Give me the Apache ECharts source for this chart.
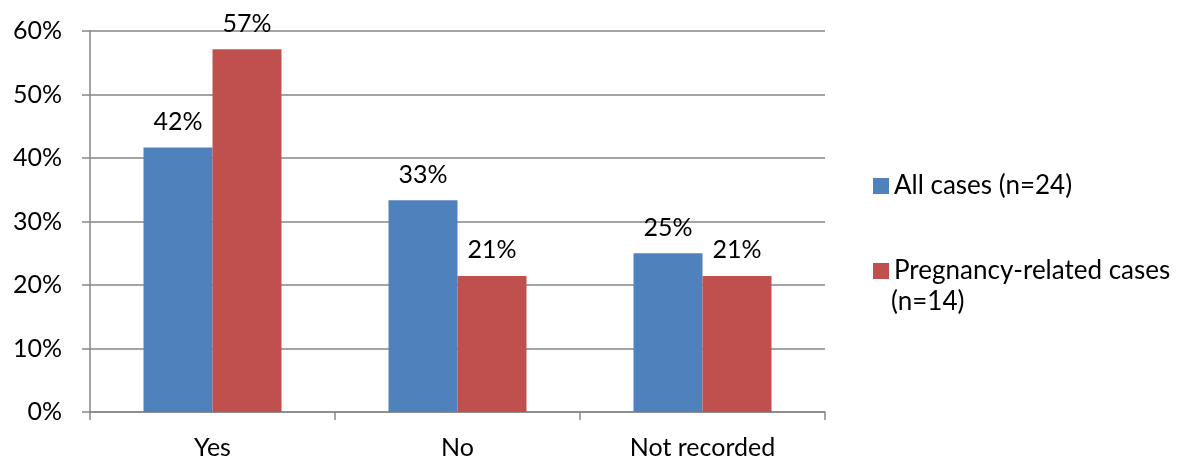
<!DOCTYPE html>
<html><head><meta charset="utf-8">
<script src="https://cdn.jsdelivr.net/npm/echarts@6/dist/echarts.min.js"></script>
<style>html,body{margin:0;padding:0;background:#fff}#c{width:1188px;height:462px}</style>
</head><body><div id="c"></div>
<script>
const categories = ['Yes', 'No', 'Not recorded'];
const allCases = [41.67, 33.33, 25.0];
const pregnancyCases = [57.14, 21.43, 21.43];
const seriesNames = ['All cases (n=24)', 'Pregnancy-related cases (n=14)'];
const yTicks = [0, 10, 20, 30, 40, 50, 60];

const FONT = 'Lato';
const FS = 25;
const chart = echarts.init(document.getElementById('c'));
const lbl = {show: true, position: 'top', distance: 13, color: '#000', fontFamily: FONT, fontSize: FS,
  formatter: p => Math.round(p.value) + '%'};
const legendText = {fontFamily: FONT, fontSize: 26, color: '#000', lineHeight: 30};
chart.setOption({
  animation: false,
  grid: {left: 90, right: 363, top: 31, bottom: 50, containLabel: false},
  legend: [
    {data: [seriesNames[0]], left: 868, top: 166, itemWidth: 16, itemHeight: 16, itemGap: 0,
     textStyle: legendText, icon: 'rect', selectedMode: false},
    {data: [seriesNames[1]], left: 868, top: 251, itemWidth: 16, itemHeight: 16, itemGap: 0,
     textStyle: legendText, icon: 'rect', selectedMode: false,
     formatter: n => n.split(' (')[0]}
  ],
  graphic: [{type: 'text', left: 891, top: 289,
    style: {text: '(' + seriesNames[1].split(' (')[1], font: '26px Lato', fill: '#000'}}],
  xAxis: {type: 'category', data: categories,
    axisLine: {lineStyle: {color: '#868686', width: 1.5}},
    axisTick: {show: true, length: 8, lineStyle: {color: '#868686', width: 1.5}},
    axisLabel: {color: '#000', fontFamily: FONT, fontSize: FS, margin: 23}},
  yAxis: {type: 'value', min: yTicks[0], max: yTicks[yTicks.length - 1], interval: 10,
    axisLine: {show: true, lineStyle: {color: '#868686', width: 1.5}},
    axisTick: {show: true, length: 8, lineStyle: {color: '#868686', width: 1.5}},
    splitLine: {lineStyle: {color: '#868686', width: 1.5}},
    axisLabel: {color: '#000', fontFamily: FONT, fontSize: FS, margin: 28, formatter: v => v + '%'}},
  series: [
    {name: seriesNames[0], type: 'bar', data: allCases, barWidth: 69, barGap: '0%',
     itemStyle: {color: '#4F81BD'}, label: lbl},
    {name: seriesNames[1], type: 'bar', data: pregnancyCases, barWidth: 69, barGap: '0%',
     itemStyle: {color: '#C0504D'}, label: lbl}
  ]
});
</script></body></html>
